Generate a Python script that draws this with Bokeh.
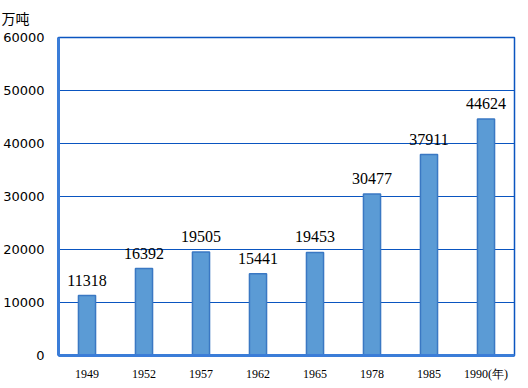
from bokeh.plotting import figure
from bokeh.models import ColumnDataSource, FixedTicker, LabelSet, Range1d
from bokeh.embed import file_html
from bokeh.resources import INLINE

years = ["1949", "1952", "1957", "1962", "1965", "1978", "1985", "1990(年)"]
values = [11318, 16392, 19505, 15441, 19453, 30477, 37911, 44624]
y_ticks = [0, 10000, 20000, 30000, 40000, 50000, 60000]
unit_label = "万吨"

src = ColumnDataSource(dict(x=years, top=values, label=[str(v) for v in values]))

p = figure(x_range=years, y_range=Range1d(0, 60000), frame_width=456, frame_height=318,
           output_backend="svg", toolbar_location=None,
           min_border_left=51, min_border_right=5, min_border_top=37, min_border_bottom=25)

p.title.text = unit_label
p.title.align = "left"
p.title.vertical_align = "top"
p.title.offset = -57
p.title.standoff = 15
p.title.text_font = "Noto Sans CJK SC"
p.title.text_font_size = "14px"
p.title.text_font_style = "normal"
p.title.text_color = "#000000"

p.vbar(x="x", top="top", width=0.3, source=src, fill_color="#5B9BD5",
       line_color="#3A78C3", line_width=1.5)

p.add_layout(LabelSet(x="x", y="top", text="label", source=src, text_align="center",
                      text_baseline="bottom", y_offset=10, text_font="Liberation Serif",
                      text_font_size="16px", text_color="#000000"))

p.yaxis.ticker = FixedTicker(ticks=y_ticks)
p.yaxis.major_label_text_font = "DejaVu Sans"
p.yaxis.major_label_text_font_size = "13px"
p.yaxis.major_label_text_color = "#000000"
p.yaxis.major_tick_line_color = None
p.yaxis.minor_tick_line_color = None
p.yaxis.axis_line_color = "#3B7DD8"
p.yaxis.axis_line_width = 3
p.yaxis.major_label_standoff = 8

p.xaxis.major_label_text_font = "Liberation Serif"
p.xaxis.major_label_text_font_size = "12px"
p.xaxis.major_label_text_color = "#000000"
p.xaxis.major_tick_line_color = None
p.xaxis.axis_line_color = "#3B7DD8"
p.xaxis.axis_line_width = 3
p.xaxis.major_label_standoff = 5

p.xgrid.grid_line_color = None
p.ygrid.grid_line_color = "#0A55C0"
p.ygrid.grid_line_width = 1.2

p.outline_line_color = "#0A55C0"
p.outline_line_width = 1.5
p.background_fill_color = "white"
p.border_fill_color = "white"

open("out.html", "w").write(file_html(p, INLINE))
